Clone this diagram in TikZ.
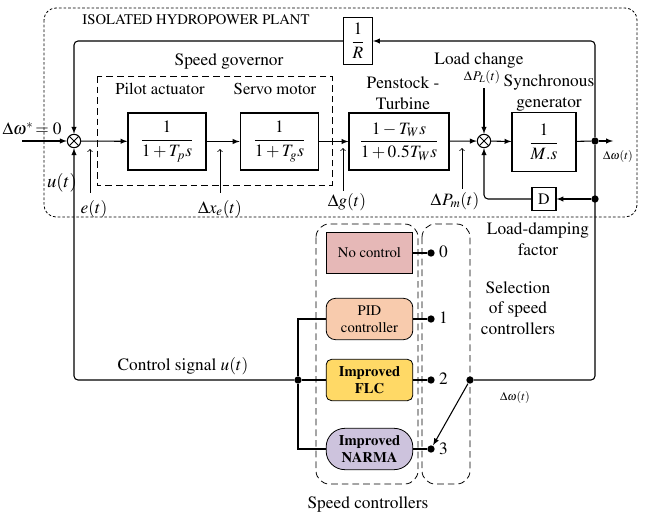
\documentclass[tikz,border=0pt]{standalone}
\usepackage{amsmath}
\usepackage[T1]{fontenc}
\usepackage{mathptmx}
\newcommand{\fsz}[2]{\fontsize{#1}{#2}\selectfont}
\definecolor{nocol}{HTML}{E6B8B7}
\definecolor{pidcol}{HTML}{F8CBAD}
\definecolor{flccol}{HTML}{FFD966}
\definecolor{narcol}{HTML}{CDC3DD}
\begin{document}
\begin{tikzpicture}[>=latex, x=0.75pt, y=-0.75pt, line width=0.8pt,
    font=\fsz{13}{15.5},
    block/.style={draw, minimum width=#1, minimum height=42.75pt, inner sep=1pt},
    sumj/.style={circle, draw, minimum size=10pt, inner sep=0pt,
        path picture={\draw[line width=0.6pt] (path picture bounding box.north west) -- (path picture bounding box.south east)
            (path picture bounding box.north east) -- (path picture bounding box.south west);}},
    jdot/.style={circle, fill, inner sep=0pt, minimum size=5.5pt},
    ctrl/.style={draw, line width=0.6pt, minimum width=65pt, minimum height=31pt, align=center,
        inner sep=1pt, font=\fsz{11}{13}},
    grp/.style={draw, line width=0.6pt, dash pattern=on 5pt off 3pt, rounded corners=10pt},
    ptr/.style={to-, line width=0.6pt},
    lbl/.style={inner sep=1pt}]
    \useasboundingbox (0,0) rectangle (647,514);

    % Nhà máy thủy điện
    \draw[line width=0.6pt, dash pattern=on 2pt off 1.5pt, rounded corners=9pt] (44,8) rectangle (637,217);
    \node[lbl, font=\fsz{11}{13}] (title) at (196,20) {ISOLATED HYDROPOWER PLANT};
    \draw[line width=0.6pt, dash pattern=on 5pt off 3pt] (97,76) rectangle (332,185);
    \node[lbl] (gov) at (229,62) {Speed governor};
    \node[lbl, font=\fsz{12.5}{14}] (pal) at (160,89) {Pilot actuator};
    \node[lbl, font=\fsz{12.5}{14}] (sml) at (275,89) {Servo motor};
    \node[lbl, align=center] (ptl) at (403,93) {Penstock -\\Turbine};
    \node[lbl] (lcl) at (479,60) {Load change};
    \node[lbl, font=\fsz{10}{12}] (plt) at (482,77) {$\Delta\mkern1mu P_L(t)$};
    \node[lbl, align=center] (sgl) at (549,93) {Synchronous\\generator};
    \node[lbl, align=center] (ldl) at (538,239) {Load-damping\\factor};

    % Các khối
    \node[sumj] (s1) at (74,141) {};
    \node[block=58.5pt] (pa) at (167,141.5) {$\dfrac{1}{1+T_p s}$};
    \node[block=59pt] (sm) at (279.5,141.5) {$\dfrac{1}{1+T_g s}$};
    \node[block=75pt] (pt) at (399,141.5) {$\dfrac{1-T_W s}{1+0.5T_W s}$};
    \node[sumj] (s2) at (484,141) {};
    \node[draw, minimum width=48pt, minimum height=44pt, inner sep=1pt] (sg) at (544,142) {$\dfrac{1}{M.s}$};
    \node[draw, minimum width=21.75pt, minimum height=35pt, inner sep=1pt] (rr) at (358,41) {$\dfrac{1}{R}$};
    \node[draw, minimum width=18pt, minimum height=17pt, inner sep=1pt, font=\fsz{12}{14}] (dd) at (544,199) {D};
    \node[jdot] (o1) at (595,141) {};
    \node[jdot] (o2) at (595,199) {};
    \coordinate (wi) at (22,141);
    \coordinate (wo) at (613,141);
    \coordinate (pl) at (484,88);
    \node[lbl] (wst) at (32,129) {$\Delta\omega^{*}\!=0$};
    \node[lbl, font=\fsz{9}{11}] (wot) at (618,156) {$\Delta\omega(t)$};
    \node[lbl, font=\fsz{14}{16}] (ut) at (62,183) {$u(t)$};

    % Tín hiệu chính
    \draw[->] (wi) -- (s1);
    \draw[->] (s1) -- (pa);
    \draw[->] (pa) -- (sm);
    \draw[->] (sm) -- (pt);
    \draw[->] (pt) -- (s2);
    \draw[->] (s2) -- (sg);
    \draw (sg) -- (o1);
    \draw[->] (o1) -- (wo);
    \draw[->] (pl) -- (s2);
    \draw[->, rounded corners=3pt] (o1) |- (rr);
    \draw[->, rounded corners=3pt] (rr) -| (s1);
    \draw[->] (o2) -- (dd);
    \draw[->, rounded corners=3pt] (dd) -| (s2);

    % Mũi tên chỉ tín hiệu
    \coordinate (pe) at (90,149);
    \draw[ptr] (pe) -- ++(0,44);
    \node[lbl] (et) at (94,209) {$e(t)$};
    \coordinate (px) at (220,149);
    \draw[ptr] (px) -- ++(0,44);
    \node[lbl] (xet) at (220,209) {$\Delta x_e(t)$};
    \coordinate (pg) at (343,148);
    \draw[ptr] (pg) -- ++(0,43);
    \node[lbl] (gt) at (347,202) {$\Delta g(t)$};
    \coordinate (pm) at (462,148);
    \draw[ptr] (pm) -- ++(0,41);
    \node[lbl] (pmt) at (455,201) {$\Delta\mkern1mu P_m(t)$};

    % Bộ điều khiển tốc độ
    \draw[grp] (316,224) rectangle (418,484);
    \draw[grp] (422,224) rectangle (470,484);
    \node[lbl] (scl) at (368,504) {Speed controllers};
    \node[lbl, align=center] (sel) at (518,308) {Selection\\of speed\\controllers};
    \node[ctrl, fill=nocol] (nc) at (369.5,253) {No control};
    \node[ctrl, fill=pidcol, rounded corners=7pt] (pid) at (369.5,319) {PID\\controller};
    \node[ctrl, fill=flccol, rounded corners=4pt] (flc) at (369.5,380) {\textbf{Improved}\\\textbf{FLC}};
    \node[ctrl, fill=narcol, rounded corners=14pt] (nar) at (369.5,449) {\textbf{Improved}\\\textbf{NARMA}};
    \node[jdot] (d0) at (431,253) {};
    \node[jdot] (d1) at (431,319) {};
    \node[jdot] (d2) at (431,380) {};
    \node[jdot] (d3) at (431,449) {};
    \node[lbl] (n0) at (443.5,252) {0};
    \node[lbl] (n1) at (443.5,318) {1};
    \node[lbl] (n2) at (443.5,379) {2};
    \node[lbl] (n3) at (443.5,449) {3};
    \node[jdot] (sw) at (470,380) {};
    \node[jdot] (bus) at (298,380) {};
    \draw (nc) -- (d0);
    \draw (pid) -- (d1);
    \draw (flc) -- (d2);
    \draw (nar) -- (d3);
    \draw[->] (sw) -- (d3);
    \draw (pid.west) -| (bus) |- (nar.west);
    \draw (bus) -- (flc);
    \draw[rounded corners=3pt] (o1) |- (sw);
    \draw[->, rounded corners=3pt] (bus) -| (s1);
    \node[lbl] (cst) at (183,366) {Control signal $u(t)$};
    \node[lbl, font=\fsz{9}{11}] (wbt) at (515,397) {$\Delta\omega(t)$};
\end{tikzpicture}
\end{document}
